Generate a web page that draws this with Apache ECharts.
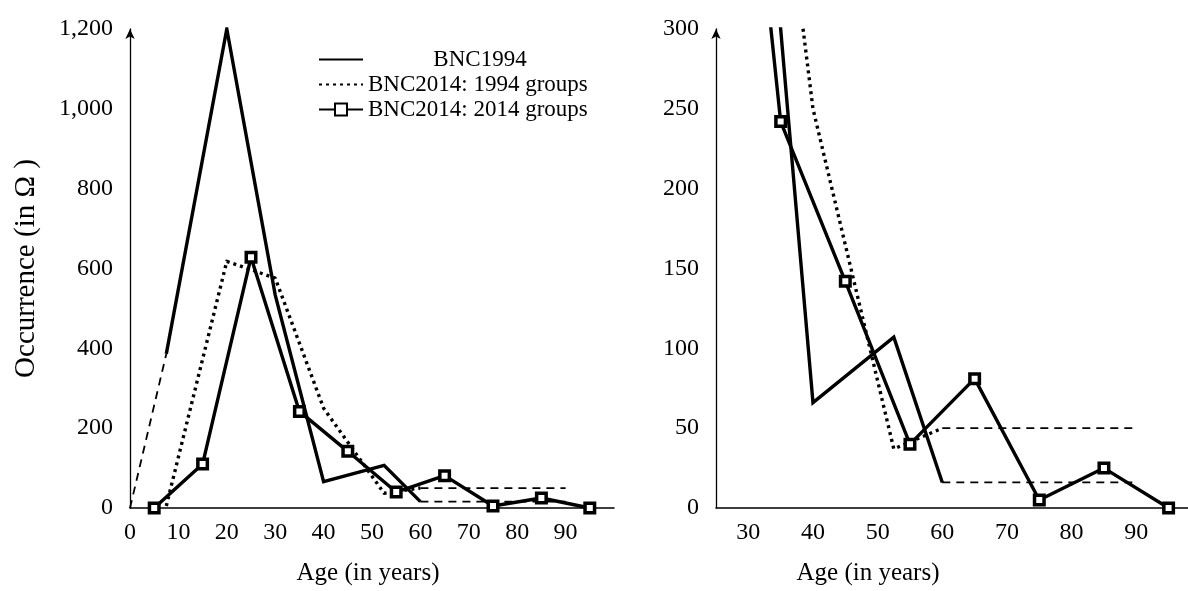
<!DOCTYPE html>
<html>
<head>
<meta charset="utf-8">
<script src="https://cdn.jsdelivr.net/npm/echarts@6/dist/echarts.min.js"></script>
<style>
html,body{margin:0;padding:0;background:#fff;}
#chart{width:1188px;height:591px;}
</style>
</head>
<body>
<div id="chart"></div>
<script>
// ---- data ----
const ageBNC1994 = [7.5, 20, 30, 40, 52.5, 60];
const occBNC1994 = [386, 1200, 534, 66, 107, 16];
const occ2014In1994Groups = [5, 618, 576, 250, 37, 50];
const age2014Groups = [5, 15, 25, 35, 45, 55, 65, 75, 85, 95];
const occ2014In2014Groups = [0, 110, 628, 242, 142, 40, 81, 5, 25, 0];
const extLeftAge = [0, 7.5];
const extLeftOcc1994 = [0, 386];
const extRightAge = [60, 90];
const extRightOcc1994 = [16, 16];
const extRightOcc2014g1994 = [50, 50];
const xTicksLeft = [0, 10, 20, 30, 40, 50, 60, 70, 80, 90];
const xTicksRight = [30, 40, 50, 60, 70, 80, 90];
const seriesNames = ['BNC1994', 'BNC2014: 1994 groups', 'BNC2014: 2014 groups'];

const FONT = '"Liberation Serif", "DejaVu Serif", serif';
const FS = 24;
const INK = '#000';
const LW = 3.4;

function pairs(xs, ys) { return xs.map((x, i) => [x, ys[i]]); }

function makeSeries(idx) {
  const base = { type: 'line', xAxisIndex: idx, yAxisIndex: idx, clip: true, animation: false, silent: true };
  const dashed = { color: INK, width: 1.8, type: [8, 6] };
  return [
    Object.assign({}, base, { name: 'ext-left', data: pairs(extLeftAge, extLeftOcc1994), symbol: 'none', lineStyle: dashed, z: 1 }),
    Object.assign({}, base, { name: 'ext-right-1994', data: pairs(extRightAge, extRightOcc1994), symbol: 'none', lineStyle: dashed, z: 1 }),
    Object.assign({}, base, { name: 'ext-right-2014g1994', data: pairs(extRightAge, extRightOcc2014g1994), symbol: 'none', lineStyle: dashed, z: 1 }),
    Object.assign({}, base, { name: seriesNames[0], data: pairs(ageBNC1994, occBNC1994), symbol: 'none',
      itemStyle: { color: INK }, lineStyle: { color: INK, width: LW, join: 'miter' }, z: 2 }),
    Object.assign({}, base, { name: seriesNames[1], data: pairs(ageBNC1994, occ2014In1994Groups), symbol: 'none',
      itemStyle: { color: INK }, lineStyle: { color: INK, width: LW, type: [3, 4], cap: 'butt', join: 'round' }, z: 2 }),
    Object.assign({}, base, { name: seriesNames[2], data: pairs(age2014Groups, occ2014In2014Groups), symbol: 'rect', symbolSize: 9.5,
      showSymbol: true, showAllSymbol: true,
      itemStyle: { color: '#fff', borderColor: INK, borderWidth: 3.5 }, lineStyle: { color: INK, width: LW }, z: 3 })
  ];
}

const chart = echarts.init(document.getElementById('chart'), null, { renderer: 'canvas' });

const labelStyle = { fontFamily: FONT, fontSize: FS, color: INK };

chart.setOption({
  animation: false,
  backgroundColor: '#fff',
  grid: [
    { left: 130, top: 29, width: 484, height: 484 },
    { left: 716, top: 29, width: 472, height: 484 }
  ],
  legend: {
    data: [
      { name: seriesNames[0], itemStyle: { opacity: 0 } },
      { name: seriesNames[1], itemStyle: { opacity: 0 } },
      { name: seriesNames[2] }
    ],
    left: 313, top: 43,
    orient: 'vertical',
    itemWidth: 44, itemHeight: 15, itemGap: 2,
    selectedMode: false,
    formatter: function (name) { return name === 'BNC1994' ? '{c|' + name + '}' : name; },
    textStyle: {
      fontFamily: FONT, fontSize: 23, color: INK,
      rich: { c: { width: 224, align: 'center', fontFamily: FONT, fontSize: 23, color: INK } }
    }
  },
  xAxis: [
    {
      gridIndex: 0, type: 'value', min: 0, max: 100,
      axisLine: { show: true, lineStyle: { color: INK, width: 1.6 } },
      axisTick: { show: false }, splitLine: { show: false },
      axisLabel: Object.assign({ margin: 13, customValues: xTicksLeft }, labelStyle),
      name: 'Age (in years)', nameLocation: 'middle', nameGap: 53,
      nameTextStyle: Object.assign({ padding: [0, 8, 0, 0] }, labelStyle, { fontSize: 25 })
    },
    {
      gridIndex: 1, type: 'value', min: 25, max: 98,
      axisLine: { show: true, lineStyle: { color: INK, width: 1.6 } },
      axisTick: { show: false }, splitLine: { show: false },
      axisLabel: Object.assign({ margin: 13, customValues: xTicksRight }, labelStyle),
      name: 'Age (in years)', nameLocation: 'middle', nameGap: 53,
      nameTextStyle: Object.assign({ padding: [0, 168, 0, 0] }, labelStyle, { fontSize: 25 })
    }
  ],
  yAxis: [
    {
      gridIndex: 0, type: 'value', min: 0, max: 1200, interval: 200,
      axisLine: { show: true, symbol: ['none', 'arrow'], symbolSize: [7, 10], lineStyle: { color: INK, width: 1.3 } },
      axisTick: { show: false }, splitLine: { show: false },
      axisLabel: Object.assign({ margin: 17, formatter: v => v.toLocaleString('en-US') }, labelStyle),
      name: 'Occurrence (in Ω )', nameLocation: 'middle', nameGap: 89, nameRotate: 90,
      nameTextStyle: Object.assign({}, labelStyle, { fontSize: 29 })
    },
    {
      gridIndex: 1, type: 'value', min: 0, max: 300, interval: 50,
      axisLine: { show: true, symbol: ['none', 'arrow'], symbolSize: [7, 10], lineStyle: { color: INK, width: 1.3 } },
      axisTick: { show: false }, splitLine: { show: false },
      axisLabel: Object.assign({ margin: 17 }, labelStyle)
    }
  ],
  series: makeSeries(0).concat(makeSeries(1))
});
</script>
</body>
</html>
